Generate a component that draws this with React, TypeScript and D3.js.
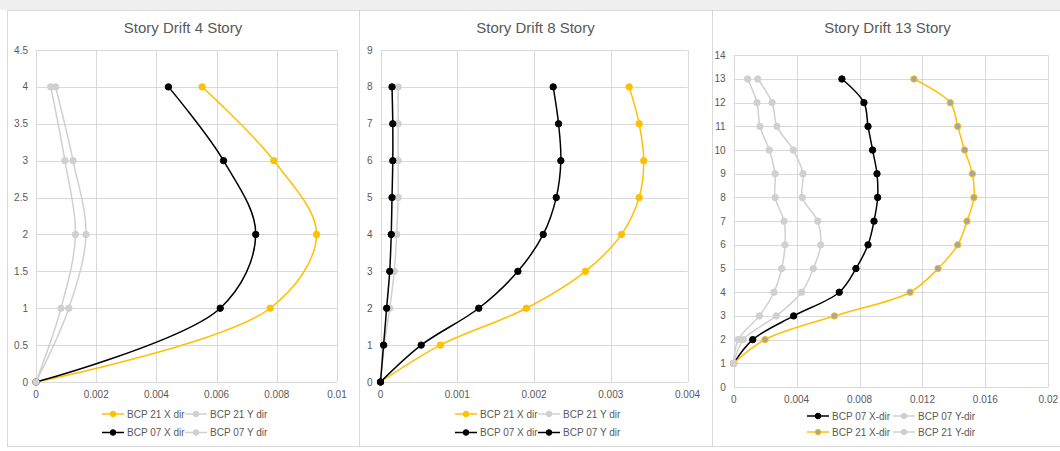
import React from "react";
import * as d3 from "d3";

// ---- 4-story model ----
const stories4 = [0, 1, 2, 3, 4];
const s4Bcp21X = [0, 0.00778, 0.00932, 0.0079, 0.00552];
const s4Bcp21Y = [0, 0.00109, 0.00166, 0.00123, 0.00065];
const s4Bcp07X = [0, 0.00612, 0.0073, 0.00623, 0.0044];
const s4Bcp07Y = [0, 0.00083, 0.00131, 0.00096, 0.00049];
const s4XTicks = ["0", "0.002", "0.004", "0.006", "0.008", "0.01"];
const s4YTicks = ["0", "0.5", "1", "1.5", "2", "2.5", "3", "3.5", "4", "4.5"];

// ---- 8-story model ----
const stories8 = [0, 1, 2, 3, 4, 5, 6, 7, 8];
const s8Bcp21X = [0, 0.00078, 0.0019, 0.00267, 0.00314, 0.00337, 0.00343, 0.00337, 0.00324];
const s8Bcp21Y = [0, 0.00005, 0.00012, 0.00018, 0.00021, 0.00023, 0.00023, 0.00023, 0.00023];
const s8Bcp07X = [0, 0.00053, 0.00128, 0.00179, 0.00212, 0.00229, 0.00235, 0.00232, 0.00225];
const s8Bcp07Y = [0, 0.00004, 0.00008, 0.00012, 0.00014, 0.00015, 0.00016, 0.00016, 0.00015];
const s8XTicks = ["0", "0.001", "0.002", "0.003", "0.004"];
const s8YTicks = ["0", "1", "2", "3", "4", "5", "6", "7", "8", "9"];

// ---- 13-story model ----
const stories13 = [1, 2, 3, 4, 5, 6, 7, 8, 9, 10, 11, 12, 13];
const s13Bcp07X = [0, 0.00121, 0.00381, 0.00671, 0.00777, 0.00854, 0.00892, 0.00915, 0.00911, 0.00883, 0.00854, 0.00828, 0.00688];
const s13Bcp07Y = [0, 0.00029, 0.00163, 0.00256, 0.00305, 0.00326, 0.0032, 0.00263, 0.00263, 0.00226, 0.00167, 0.00148, 0.00089];
const s13Bcp21X = [0, 0.00199, 0.0064, 0.01121, 0.01299, 0.01424, 0.01483, 0.01527, 0.01517, 0.01468, 0.01424, 0.01377, 0.01146];
const s13Bcp21Y = [0, 0.00061, 0.00271, 0.00432, 0.00506, 0.00553, 0.00534, 0.00436, 0.0044, 0.00379, 0.00275, 0.00244, 0.00153];
const s13XTicks = ["0", "0.004", "0.008", "0.012", "0.016", "0.02"];
const s13YTicks = ["0", "1", "2", "3", "4", "5", "6", "7", "8", "9", "10", "11", "12", "13", "14"];

const GOLD = "#ffc000";
const BLACK = "#000000";
const GRAY = "#d0d0d0";
const TEXT = "#595959";
const GRID = "#d9d9d9";
const FONT = "'Liberation Sans', Arial, sans-serif";

type Series = {
  name: string;
  values: number[];
  line: string;
  fill: string;
  stroke: string;
};

type Panel = {
  title: string;
  left: number;
  right: number;
  plot: { x0: number; x1: number; y0: number; y1: number };
  xMax: number;
  yMax: number;
  xTicks: string[];
  yTicks: string[];
  stories: number[];
  series: Series[];
  legendX: [number, number];
  legendY: [number, number];
};

const panels: Panel[] = [
  {
    title: "Story Drift 4 Story",
    left: 7,
    right: 359,
    plot: { x0: 36, x1: 337, y0: 50, y1: 382 },
    xMax: 0.01,
    yMax: 4.5,
    xTicks: s4XTicks,
    yTicks: s4YTicks,
    stories: stories4,
    series: [
      { name: "BCP 21 X dir", values: s4Bcp21X, line: GOLD, fill: GOLD, stroke: GOLD },
      { name: "BCP 21 Y dir", values: s4Bcp21Y, line: GRAY, fill: GRAY, stroke: GRAY },
      { name: "BCP 07 X dir", values: s4Bcp07X, line: BLACK, fill: BLACK, stroke: BLACK },
      { name: "BCP 07 Y dir", values: s4Bcp07Y, line: GRAY, fill: GRAY, stroke: GRAY },
    ],
    legendX: [102, 185],
    legendY: [414, 432.5],
  },
  {
    title: "Story Drift 8 Story",
    left: 359,
    right: 712,
    plot: { x0: 380.5, x1: 687.5, y0: 50, y1: 382 },
    xMax: 0.004,
    yMax: 9,
    xTicks: s8XTicks,
    yTicks: s8YTicks,
    stories: stories8,
    series: [
      { name: "BCP 21 X dir", values: s8Bcp21X, line: GOLD, fill: GOLD, stroke: GOLD },
      { name: "BCP 21 Y dir", values: s8Bcp21Y, line: GRAY, fill: GRAY, stroke: GRAY },
      { name: "BCP 07 X dir", values: s8Bcp07X, line: BLACK, fill: BLACK, stroke: BLACK },
      { name: "BCP 07 Y dir", values: s8Bcp07Y, line: BLACK, fill: BLACK, stroke: BLACK },
    ],
    legendX: [455, 538],
    legendY: [414, 432.5],
  },
  {
    title: "Story Drift 13 Story",
    left: 712,
    right: 1066,
    plot: { x0: 733.7, x1: 1048.3, y0: 55.3, y1: 387 },
    xMax: 0.02,
    yMax: 14,
    xTicks: s13XTicks,
    yTicks: s13YTicks,
    stories: stories13,
    series: [
      { name: "BCP 07 X-dir", values: s13Bcp07X, line: BLACK, fill: BLACK, stroke: BLACK },
      { name: "BCP 07 Y-dir", values: s13Bcp07Y, line: GRAY, fill: GRAY, stroke: GRAY },
      { name: "BCP 21 X-dir", values: s13Bcp21X, line: GOLD, fill: "#a5a5a5", stroke: GOLD },
      { name: "BCP 21 Y-dir", values: s13Bcp21Y, line: GRAY, fill: GRAY, stroke: GRAY },
    ],
    legendX: [807, 893],
    legendY: [416, 432],
  },
];

function ChartPanel({ p }: { p: Panel }) {
  const x = d3.scaleLinear().domain([0, p.xMax]).range([p.plot.x0, p.plot.x1]);
  const y = d3.scaleLinear().domain([0, p.yMax]).range([p.plot.y1, p.plot.y0]);
  const xVals = p.xTicks.map(Number);
  const yVals = p.yTicks.map(Number);
  const line = d3
    .line<[number, number]>()
    .x((d) => x(d[0]))
    .y((d) => y(d[1]))
    .curve(d3.curveCatmullRom.alpha(0.5));
  const cx = (p.left + Math.min(p.right, 1063)) / 2;

  return (
    <g>
      <rect
        x={p.left + 0.5}
        y={10.5}
        width={p.right - p.left}
        height={436}
        fill="#ffffff"
        stroke={GRID}
        strokeWidth={1}
      />
      <text
        x={cx}
        y={33}
        textAnchor="middle"
        fontFamily={FONT}
        fontSize={15}
        fill={TEXT}
      >
        {p.title}
      </text>
      {/* gridlines */}
      {yVals.map((v, i) => (
        <line
          key={"gy" + i}
          x1={p.plot.x0}
          x2={p.plot.x1}
          y1={Math.round(y(v)) + 0.5}
          y2={Math.round(y(v)) + 0.5}
          stroke={GRID}
          strokeWidth={1}
        />
      ))}
      {xVals.map((v, i) => (
        <line
          key={"gx" + i}
          x1={Math.round(x(v)) + 0.5}
          x2={Math.round(x(v)) + 0.5}
          y1={p.plot.y0}
          y2={p.plot.y1}
          stroke={GRID}
          strokeWidth={1}
        />
      ))}
      {/* tick labels */}
      {yVals.map((v, i) => (
        <text
          key={"ty" + i}
          x={p.plot.x0 - 8}
          y={y(v) + 3.5}
          textAnchor="end"
          fontFamily={FONT}
          fontSize={10}
          fill={TEXT}
        >
          {p.yTicks[i]}
        </text>
      ))}
      {xVals.map((v, i) => (
        <text
          key={"tx" + i}
          x={x(v)}
          y={p.plot.y1 + 15.5}
          textAnchor="middle"
          fontFamily={FONT}
          fontSize={10}
          fill={TEXT}
        >
          {p.xTicks[i]}
        </text>
      ))}
      {/* series */}
      {p.series.map((s, si) => {
        const pts: [number, number][] = s.values.map((v, i) => [v, p.stories[i]]);
        return (
          <g key={"s" + si}>
            <path d={line(pts) || ""} fill="none" stroke={s.line} strokeWidth={1.5} />
            {pts.map((d, i) => (
              <circle
                key={i}
                cx={x(d[0])}
                cy={y(d[1])}
                r={3.2}
                fill={s.fill}
                stroke={s.stroke}
                strokeWidth={1}
              />
            ))}
          </g>
        );
      })}
      {/* legend */}
      {p.series.map((s, si) => {
        const lx = p.legendX[si % 2];
        const ly = p.legendY[Math.floor(si / 2)];
        return (
          <g key={"l" + si}>
            <line x1={lx} x2={lx + 22} y1={ly} y2={ly} stroke={s.line} strokeWidth={1.5} />
            <circle cx={lx + 11} cy={ly} r={2.8} fill={s.fill} stroke={s.stroke} strokeWidth={1} />
            <text
              x={lx + 25}
              y={ly + 3.5}
              fontFamily={FONT}
              fontSize={10}
              fill={TEXT}
            >
              {s.name}
            </text>
          </g>
        );
      })}
    </g>
  );
}

export default function App() {
  return (
    <svg
      width={1060}
      height={451}
      style={{ position: "absolute", left: 0, top: 0, display: "block" }}
    >
      <rect x={0} y={0} width={1060} height={451} fill="#ffffff" />
      <rect x={0} y={0} width={1060} height={10} fill="#f0f0f0" />
      {panels.map((p, i) => (
        <ChartPanel key={i} p={p} />
      ))}
    </svg>
  );
}
